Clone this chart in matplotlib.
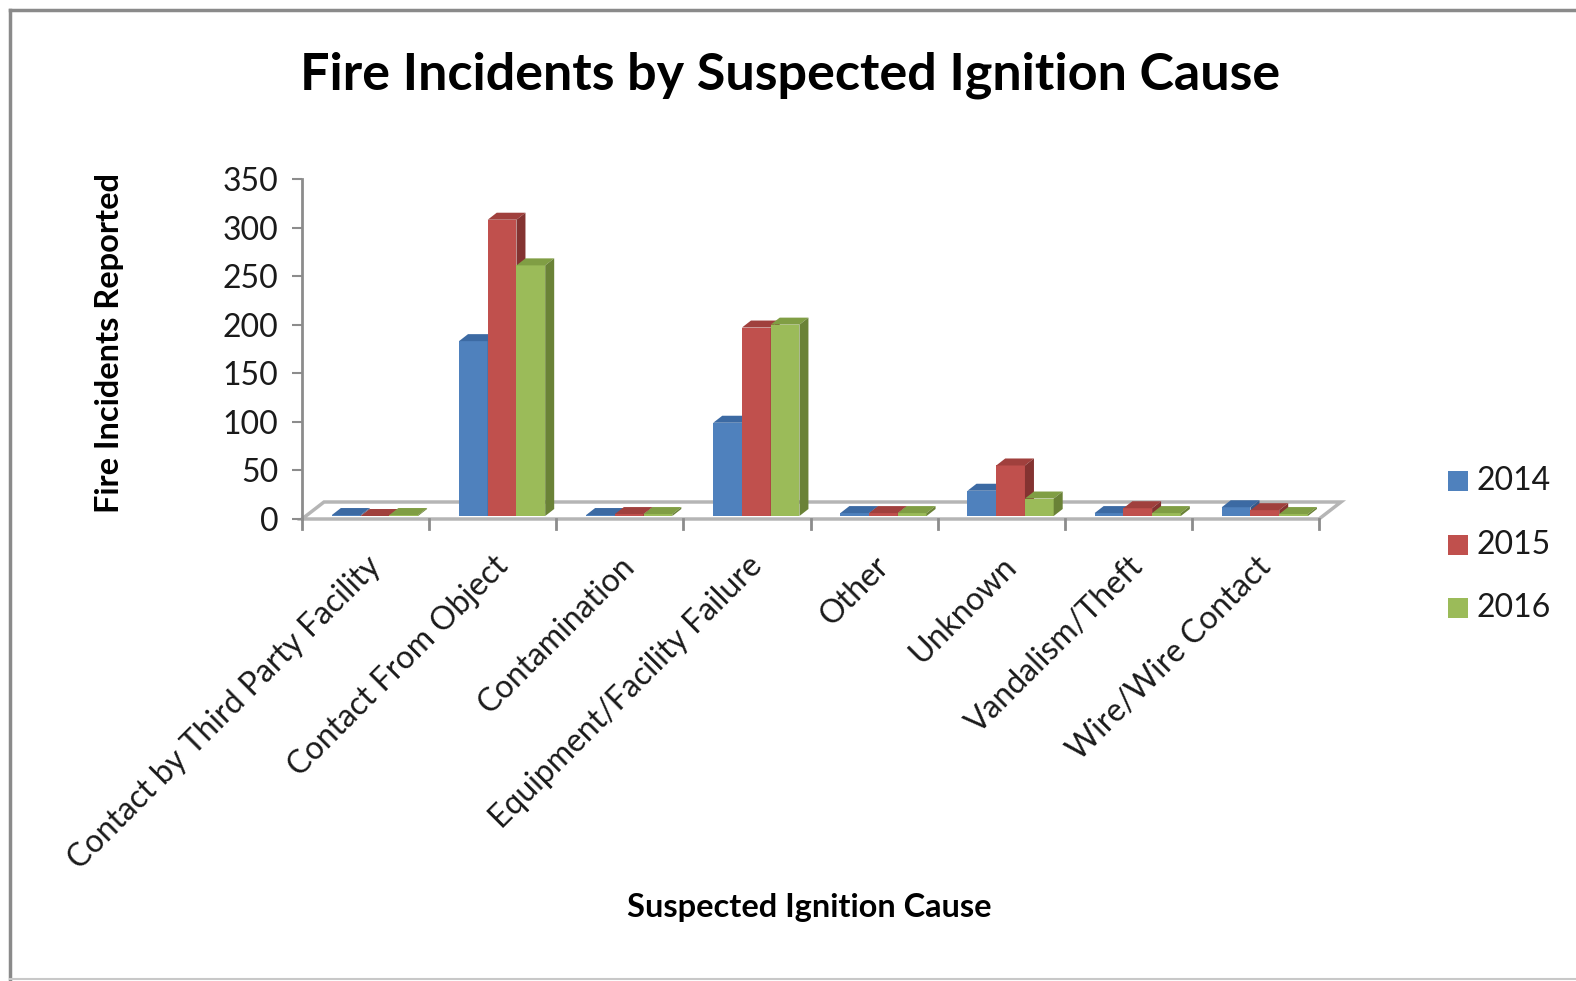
import matplotlib
matplotlib.use("Agg")
import matplotlib.pyplot as plt
from matplotlib.patches import Rectangle, Polygon
from matplotlib.lines import Line2D

# ---------------- data ----------------
categories = ["Contact by Third Party Facility", "Contact From Object", "Contamination",
              "Equipment/Facility Failure", "Other", "Unknown", "Vandalism/Theft",
              "Wire/Wire Contact"]
series_names = ["2014", "2015", "2016"]
values_2014 = [1, 180, 1, 96, 3, 26, 3, 9]
values_2015 = [0, 305, 2, 194, 3, 52, 8, 6]
values_2016 = [1, 258, 2, 197, 3, 18, 3, 2]
y_ticks = [0, 50, 100, 150, 200, 250, 300, 350]
title = "Fire Incidents by Suspected Ignition Cause"
x_label = "Suspected Ignition Cause"
y_label = "Fire Incidents Reported"

series = [values_2014, values_2015, values_2016]
front_colors = ["#4F81BD", "#C0504D", "#9BBB59"]
top_colors = ["#3C6AA3", "#A0403D", "#809E44"]
side_colors = ["#345A8A", "#843331", "#6A8237"]

FONT = "Lato"
W, H = 1576, 981
DPI = 100
fig = plt.figure(figsize=(W / DPI, H / DPI), dpi=DPI)
fig.patch.set_facecolor("white")

def px(x, y, w, h):
    return [x / W, 1 - (y + h) / H, w / W, h / H]

# axes: left 302, right 1319, top 179, bottom 519
ax_l, ax_r, ax_t, ax_b = 302, 1319, 179, 519
ax = fig.add_axes(px(ax_l, ax_t, ax_r - ax_l, ax_b - ax_t))
n = len(categories)
ymax = y_ticks[-1]
ax.set_xlim(0, n)
ax.set_ylim(0, ymax)
sx = (ax_r - ax_l) / n          # px per category
sy = (ax_b - ax_t) / ymax       # px per value unit

for s in ["top", "right", "bottom"]:
    ax.spines[s].set_visible(False)
ax.spines["left"].set_color("#8c8c8c")
ax.spines["left"].set_linewidth(2)
ax.set_yticks(y_ticks)
ax.set_yticklabels([str(v) for v in y_ticks], fontsize=23, fontfamily=FONT, color="#1a1a1a")
ax.tick_params(axis="y", length=7, width=1.5, color="#8c8c8c", pad=10)
ax.set_xticks([])
ax.patch.set_alpha(0)

# floor (3D base)
fdx, fdy = 22 / sx, 17 / sy
floor = Polygon([(0, 0), (n, 0), (n + fdx, fdy), (fdx, fdy)], closed=True,
                facecolor="white", edgecolor="#b5b5b5", linewidth=2.5,
                clip_on=False, zorder=1)
ax.add_patch(floor)

# category axis ticks
for i in range(n + 1):
    ax.add_line(Line2D([i, i], [0, -10 / sy], color="#8c8c8c", linewidth=2,
                       clip_on=False, zorder=2))

# bars with pseudo-3D faces
bw = 0.226
x_off = 0.235
base = 3 / sy
ddx, ddy = 9 / sx, 7 / sy
for i in range(n):
    for k, vals in enumerate(series):
        v = vals[i]
        x0 = i + x_off + k * bw
        b = base
        t = base + v
        z = 3 + k * 0.1
        ax.add_patch(Rectangle((x0, b), bw, v, facecolor=front_colors[k],
                               edgecolor="none", clip_on=False, zorder=z))
        ax.add_patch(Polygon([(x0, t), (x0 + bw, t), (x0 + bw + ddx, t + ddy),
                              (x0 + ddx, t + ddy)], closed=True,
                             facecolor=top_colors[k], edgecolor="none",
                             clip_on=False, zorder=z))
        ax.add_patch(Polygon([(x0 + bw, b), (x0 + bw + ddx, b + ddy),
                              (x0 + bw + ddx, t + ddy), (x0 + bw, t)], closed=True,
                             facecolor=side_colors[k], edgecolor="none",
                             clip_on=False, zorder=z))

# rotated category labels
for i, c in enumerate(categories):
    ax.text(i + 0.5, -32 / sy, c, rotation=45, rotation_mode="anchor",
            ha="right", va="top", fontsize=23, fontfamily=FONT, color="#1a1a1a",
            clip_on=False)

# title & axis labels (figure pixel coords)
fig.text(790 / W, 1 - 75 / H, title, ha="center", va="center",
         fontsize=37.5, fontweight="bold", fontfamily=FONT, color="black")
fig.text(809 / W, 1 - 907 / H, x_label, ha="center", va="center",
         fontsize=23.4, fontweight="bold", fontfamily=FONT, color="black")
fig.text(110 / W, 1 - 343 / H, y_label, ha="center", va="center", rotation=90,
         fontsize=23.4, fontweight="bold", fontfamily=FONT, color="black")

# legend
leg_y = [481, 545, 608]
for k, name in enumerate(series_names):
    fig.patches.append(Rectangle((1448 / W, 1 - (leg_y[k] + 10) / H), 20 / W, 20 / H,
                                 transform=fig.transFigure, facecolor=front_colors[k],
                                 edgecolor="none"))
    fig.text(1476 / W, 1 - leg_y[k] / H, name, ha="left", va="center",
             fontsize=23, fontfamily=FONT, color="#1a1a1a")

# chart border
fig.add_artist(Line2D([10 / W, 10 / W], [1 - 979 / H, 1 - 10 / H], transform=fig.transFigure,
                      color="#8a8a8a", linewidth=2.5))
fig.add_artist(Line2D([10 / W, 1], [1 - 10 / H, 1 - 10 / H], transform=fig.transFigure,
                      color="#8a8a8a", linewidth=2.5))
fig.add_artist(Line2D([10 / W, 1], [1 - 979 / H, 1 - 979 / H], transform=fig.transFigure,
                      color="#c8c8c8", linewidth=1.5))

fig.savefig("out.png", dpi=DPI, facecolor="white")
